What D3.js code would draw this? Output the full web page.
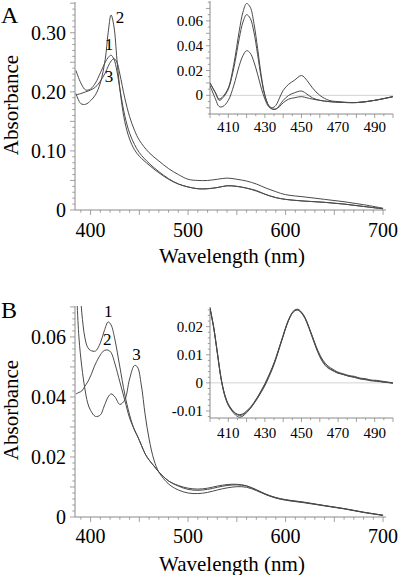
<!DOCTYPE html>
<html><head><meta charset="utf-8">
<script src="https://cdn.jsdelivr.net/npm/d3@7"></script>
<style>
html,body{margin:0;padding:0;background:#fff;}
svg{display:block;}
</style></head>
<body>
<script>
// ---------- DATA ----------
// Panel A main spectra
const aWl = [385,390,395,400,405,410,415,418,421,424,427,430,435,440,445,450,460,470,480,490,500,510,520,530,540,550,560,570,580,590,600,620,640,660,680,700];
const aS1 = [0.236,0.215,0.203,0.205,0.215,0.232,0.250,0.258,0.262,0.255,0.235,0.205,0.160,0.130,0.111,0.097,0.079,0.065,0.053,0.044,0.039,0.036,0.036,0.038,0.041,0.040,0.037,0.032,0.026,0.021,0.018,0.015,0.013,0.010,0.006,0.002];
const aS2 = [0.197,0.180,0.179,0.185,0.195,0.215,0.255,0.300,0.330,0.310,0.255,0.205,0.150,0.120,0.102,0.091,0.076,0.063,0.052,0.044,0.039,0.036,0.036,0.038,0.041,0.040,0.037,0.033,0.026,0.021,0.018,0.015,0.013,0.010,0.006,0.002];
const aS3 = [0.195,0.197,0.200,0.203,0.208,0.218,0.232,0.243,0.252,0.256,0.250,0.230,0.190,0.158,0.135,0.118,0.097,0.083,0.070,0.060,0.052,0.050,0.050,0.052,0.054,0.052,0.049,0.044,0.037,0.031,0.026,0.022,0.018,0.014,0.009,0.003];
const aLabels = ["1","2","3"];
const aXTicks = [400,500,600,700];
const aYTicks = [0,0.10,0.20,0.30];
const aYTickLabels = ["0","0.10","0.20","0.30"];

// Panel A inset (difference spectra)
const aiWl = [400,403,405,407,410,413,416,418,420,422,424,426,428,430,432,434,436,438,440,443,446,450,453,456,460,465,470,480,490,500];
const aiS1 = [0.010,0.002,-0.003,-0.001,0.006,0.025,0.052,0.067,0.074,0.071,0.058,0.038,0.016,0.000,-0.008,-0.010,-0.008,-0.002,0.004,0.009,0.012,0.016,0.012,0.006,0.000,-0.004,-0.005,-0.0058,-0.004,-0.001];
const aiS2 = [0.010,0.002,-0.004,-0.002,0.005,0.022,0.046,0.059,0.065,0.062,0.051,0.033,0.014,0.000,-0.008,-0.011,-0.011,-0.008,-0.004,0.000,0.002,0.0035,0.001,-0.002,-0.004,-0.005,-0.0055,-0.0058,-0.004,-0.001];
const aiS3 = [0.008,-0.003,-0.009,-0.009,-0.004,0.008,0.024,0.032,0.036,0.034,0.027,0.017,0.006,-0.003,-0.009,-0.011,-0.011,-0.009,-0.006,-0.003,-0.002,-0.001,-0.002,-0.003,-0.004,-0.005,-0.0055,-0.0058,-0.004,-0.001];
const aiXTicks = [410,430,450,470,490];
const aiYTicks = [0,0.02,0.04,0.06];
const aiYTickLabels = ["0","0.02","0.04","0.06"];

// Panel B main spectra
const bWl = [385,388,391,394,397,400,405,410,414,418,421,425,430,435,440,445,448,452,456,460,465,470,480,490,500,510,520,530,540,550,560,570,580,590,600,620,640,660,680,700];
const bS1 = [0.095,0.082,0.068,0.060,0.0565,0.0555,0.0553,0.058,0.062,0.065,0.064,0.059,0.050,0.041,0.034,0.029,0.027,0.024,0.021,0.019,0.017,0.015,0.012,0.0105,0.0096,0.0093,0.0096,0.0103,0.0108,0.0109,0.0104,0.0091,0.0076,0.0065,0.0058,0.0049,0.0038,0.0028,0.0016,0.0006];
const bS2 = [0.041,0.0415,0.042,0.0435,0.045,0.047,0.051,0.054,0.0555,0.0556,0.0548,0.051,0.045,0.039,0.033,0.029,0.027,0.024,0.021,0.019,0.017,0.015,0.012,0.0103,0.0092,0.0089,0.0092,0.0099,0.0105,0.0107,0.0103,0.0090,0.0075,0.0064,0.0057,0.0048,0.0038,0.0028,0.0016,0.0006];
const bS3 = [0.080,0.060,0.050,0.043,0.038,0.0355,0.0335,0.034,0.037,0.040,0.041,0.040,0.0375,0.039,0.046,0.0505,0.050,0.044,0.034,0.026,0.019,0.015,0.011,0.009,0.0080,0.0078,0.0082,0.0090,0.0097,0.0101,0.0099,0.0088,0.0074,0.0063,0.0056,0.0047,0.0037,0.0027,0.0015,0.0005];
const bLabels = ["1","2","3"];
const bXTicks = [400,500,600,700];
const bYTicks = [0,0.02,0.04,0.06];
const bYTickLabels = ["0","0.02","0.04","0.06"];

// Panel B inset
const biWl = [400,402,404,406,408,410,412,414,416,418,420,422,424,426,428,430,432,434,436,438,440,442,444,446,448,450,452,454,456,458,460,462,464,466,468,470,473,476,479,482,485,488,491,494,497,500];
const biS1 = [0.0268,0.0200,0.0110,0.0020,-0.0040,-0.0075,-0.0095,-0.0108,-0.0113,-0.0110,-0.0100,-0.0087,-0.0070,-0.0050,-0.0027,-0.0003,0.0025,0.0055,0.0090,0.0130,0.0170,0.0210,0.0240,0.0258,0.0262,0.0252,0.0232,0.0200,0.0165,0.0130,0.0100,0.0078,0.0063,0.0053,0.0045,0.0038,0.0032,0.0026,0.0023,0.0017,0.0015,0.0010,0.0009,0.0006,0.0003,0.0000];
const biS2 = [0.0265,0.0195,0.0105,0.0015,-0.0045,-0.0080,-0.0100,-0.0115,-0.0122,-0.0118,-0.0106,-0.0092,-0.0074,-0.0055,-0.0033,-0.0010,0.0018,0.0048,0.0084,0.0125,0.0166,0.0206,0.0237,0.0255,0.0260,0.0250,0.0230,0.0198,0.0163,0.0127,0.0096,0.0073,0.0058,0.0049,0.0042,0.0036,0.0029,0.0024,0.0019,0.0015,0.0011,0.0009,0.0005,0.0004,0.0001,-0.0002];
const biS3 = [0.0266,0.0198,0.0108,0.0018,-0.0042,-0.0078,-0.0097,-0.0110,-0.0116,-0.0113,-0.0103,-0.0090,-0.0072,-0.0052,-0.0030,-0.0006,0.0022,0.0052,0.0087,0.0128,0.0168,0.0208,0.0238,0.0256,0.0259,0.0248,0.0228,0.0196,0.0160,0.0124,0.0093,0.0070,0.0055,0.0047,0.0040,0.0034,0.0030,0.0023,0.0021,0.0014,0.0013,0.0007,0.0008,0.0003,0.0002,0.0000];
const biXTicks = [410,430,450,470,490];
const biYTicks = [-0.01,0,0.01,0.02];
const biYTickLabels = ["-0.01","0","0.01","0.02"];

// ---------- DRAW ----------
const W = 400, H = 575;
const FONT = "'Liberation Serif', 'Times New Roman', Times, 'DejaVu Serif', serif";
const svg = d3.select("body").append("svg").attr("width", W).attr("height", H)
  .attr("font-family", FONT).style("font-family", FONT);
const AX = "#8a8a8a", LN = "#4a4a4a";
let clipId = 0;

function txt(sel) { return sel.attr("font-family", FONT).attr("fill", "#000"); }

function drawPanel(o) {
  const x = d3.scaleLinear().domain(o.xDom).range(o.xR);
  const y = d3.scaleLinear().domain(o.yDom).range(o.yR);
  const g = svg.append("g");
  const id = "clip" + (clipId++);
  svg.append("defs").append("clipPath").attr("id", id).append("rect")
    .attr("x", o.xR[0]).attr("y", o.yR[1]).attr("width", o.xR[1] - o.xR[0]).attr("height", o.yR[0] - o.yR[1]);

  if (o.zero) {
    g.append("line").attr("x1", o.xR[0]).attr("x2", o.xR[1]).attr("y1", y(0)).attr("y2", y(0))
      .attr("stroke", "#c8c8c8").attr("stroke-width", 0.8);
  }
  const xMinor = d3.range(o.xMinor[0], o.xDom[1] + 1e-9, o.xMinor[1]);
  const yMinor = d3.range(o.yMinor[0], o.yDom[1] + 1e-9, o.yMinor[1]);
  g.selectAll(".xm").data(xMinor).join("line")
    .attr("x1", d => x(d)).attr("x2", d => x(d))
    .attr("y1", o.yR[0]).attr("y2", d => o.yR[0] + (Math.abs(d / o.xMajorStep - Math.round(d / o.xMajorStep)) < 1e-6 ? o.tl : o.tl * 0.55))
    .attr("stroke", AX).attr("stroke-width", 0.8);
  g.selectAll(".ym").data(yMinor).join("line")
    .attr("y1", d => y(d)).attr("y2", d => y(d))
    .attr("x1", o.xR[0]).attr("x2", d => o.xR[0] - (Math.abs(d / o.yMajorStep - Math.round(d / o.yMajorStep)) < 1e-6 ? o.tl : o.tl * 0.55))
    .attr("stroke", AX).attr("stroke-width", 0.8);
  g.append("line").attr("x1", o.xR[0]).attr("x2", o.xR[1]).attr("y1", o.yR[0]).attr("y2", o.yR[0]).attr("stroke", AX).attr("stroke-width", 1);
  g.append("line").attr("x1", o.xR[0]).attr("x2", o.xR[0]).attr("y1", o.yR[0]).attr("y2", o.yR[1]).attr("stroke", AX).attr("stroke-width", 1);

  txt(g.selectAll(".xl").data(o.xTicks).join("text"))
    .attr("x", d => x(d)).attr("y", o.xLabY).attr("text-anchor", "middle")
    .attr("font-size", o.fs).text(d => d);
  txt(g.selectAll(".yl").data(o.yTicks).join("text"))
    .attr("x", o.xR[0] - o.yLabGap).attr("y", d => y(d)).attr("dy", "0.34em").attr("text-anchor", "end")
    .attr("font-size", o.fs).text((d, i) => o.yTickLabels[i]);

  const line = d3.line().x(d => x(d[0])).y(d => y(d[1])).curve(d3.curveCatmullRom.alpha(0.5));
  const lg = g.append("g").attr("clip-path", `url(#${id})`);
  o.series.forEach(s => {
    lg.append("path").datum(o.wl.map((w, i) => [w, s[i]]))
      .attr("d", line).attr("fill", "none").attr("stroke", LN).attr("stroke-width", 1);
  });
  return {x, y, g};
}

// Panel A main
const pA = drawPanel({
  xDom: [384, 703], xR: [75, 386], yDom: [0, 0.352], yR: [210, 2],
  xMinor: [390, 10], xMajorStep: 50, yMinor: [0, 0.01], yMajorStep: 0.05, tl: 5,
  xTicks: aXTicks, yTicks: aYTicks, yTickLabels: aYTickLabels,
  xLabY: 237, yLabGap: 9, fs: 20, wl: aWl, series: [aS1, aS2, aS3]
});
[[421, 0.262], [421, 0.330], [421, 0.226]].forEach((p, i) => {
  const dx = [-2, 9, -2][i], dy = [-5, 8, 6][i];
  txt(svg.append("text")).attr("x", pA.x(p[0]) + dx).attr("y", pA.y(p[1]) + dy)
    .attr("text-anchor", "middle").attr("font-size", 17).text(aLabels[i]);
});
txt(svg.append("text")).attr("x", 232).attr("y", 263).attr("text-anchor", "middle").attr("font-size", 21).text("Wavelength (nm)");
txt(svg.append("text")).attr("transform", "translate(18,105) rotate(-90)").attr("text-anchor", "middle").attr("font-size", 21).text("Absorbance");
txt(svg.append("text")).attr("x", 1).attr("y", 23).attr("font-size", 24).text("A");

// Panel A inset
drawPanel({
  xDom: [400, 500], xR: [210, 393], yDom: [-0.015, 0.076], yR: [114, 1],
  xMinor: [400, 5], xMajorStep: 10, yMinor: [-0.015, 0.005], yMajorStep: 0.01, tl: 4,
  xTicks: aiXTicks, yTicks: aiYTicks, yTickLabels: aiYTickLabels, zero: true,
  xLabY: 132, yLabGap: 7, fs: 15, wl: aiWl, series: [aiS1, aiS2, aiS3]
});

// Panel B main
const pB = drawPanel({
  xDom: [384, 703], xR: [75, 386], yDom: [0, 0.0703], yR: [517, 306],
  xMinor: [390, 10], xMajorStep: 50, yMinor: [0, 0.002], yMajorStep: 0.01, tl: 5,
  xTicks: bXTicks, yTicks: bYTicks, yTickLabels: bYTickLabels,
  xLabY: 543, yLabGap: 9, fs: 20, wl: bWl, series: [bS1, bS2, bS3]
});
[[418, 0.065, 0], [414, 0.0556, 3], [447, 0.0505, 0]].forEach((p, i) => {
  txt(svg.append("text")).attr("x", pB.x(p[0]) + p[2]).attr("y", pB.y(p[1]) - 5)
    .attr("text-anchor", "middle").attr("font-size", 17).text(bLabels[i]);
});
txt(svg.append("text")).attr("x", 232).attr("y", 571).attr("text-anchor", "middle").attr("font-size", 21).text("Wavelength (nm)");
txt(svg.append("text")).attr("transform", "translate(18,410) rotate(-90)").attr("text-anchor", "middle").attr("font-size", 21).text("Absorbance");
txt(svg.append("text")).attr("x", 1).attr("y", 318).attr("font-size", 24).text("B");

// Panel B inset
drawPanel({
  xDom: [400, 500], xR: [210, 393], yDom: [-0.0125, 0.027], yR: [418, 307],
  xMinor: [400, 5], xMajorStep: 10, yMinor: [-0.012, 0.002], yMajorStep: 0.01, tl: 4,
  xTicks: biXTicks, yTicks: biYTicks, yTickLabels: biYTickLabels, zero: true,
  xLabY: 438, yLabGap: 7, fs: 15, wl: biWl, series: [biS1, biS2, biS3]
});
</script>
</body></html>
